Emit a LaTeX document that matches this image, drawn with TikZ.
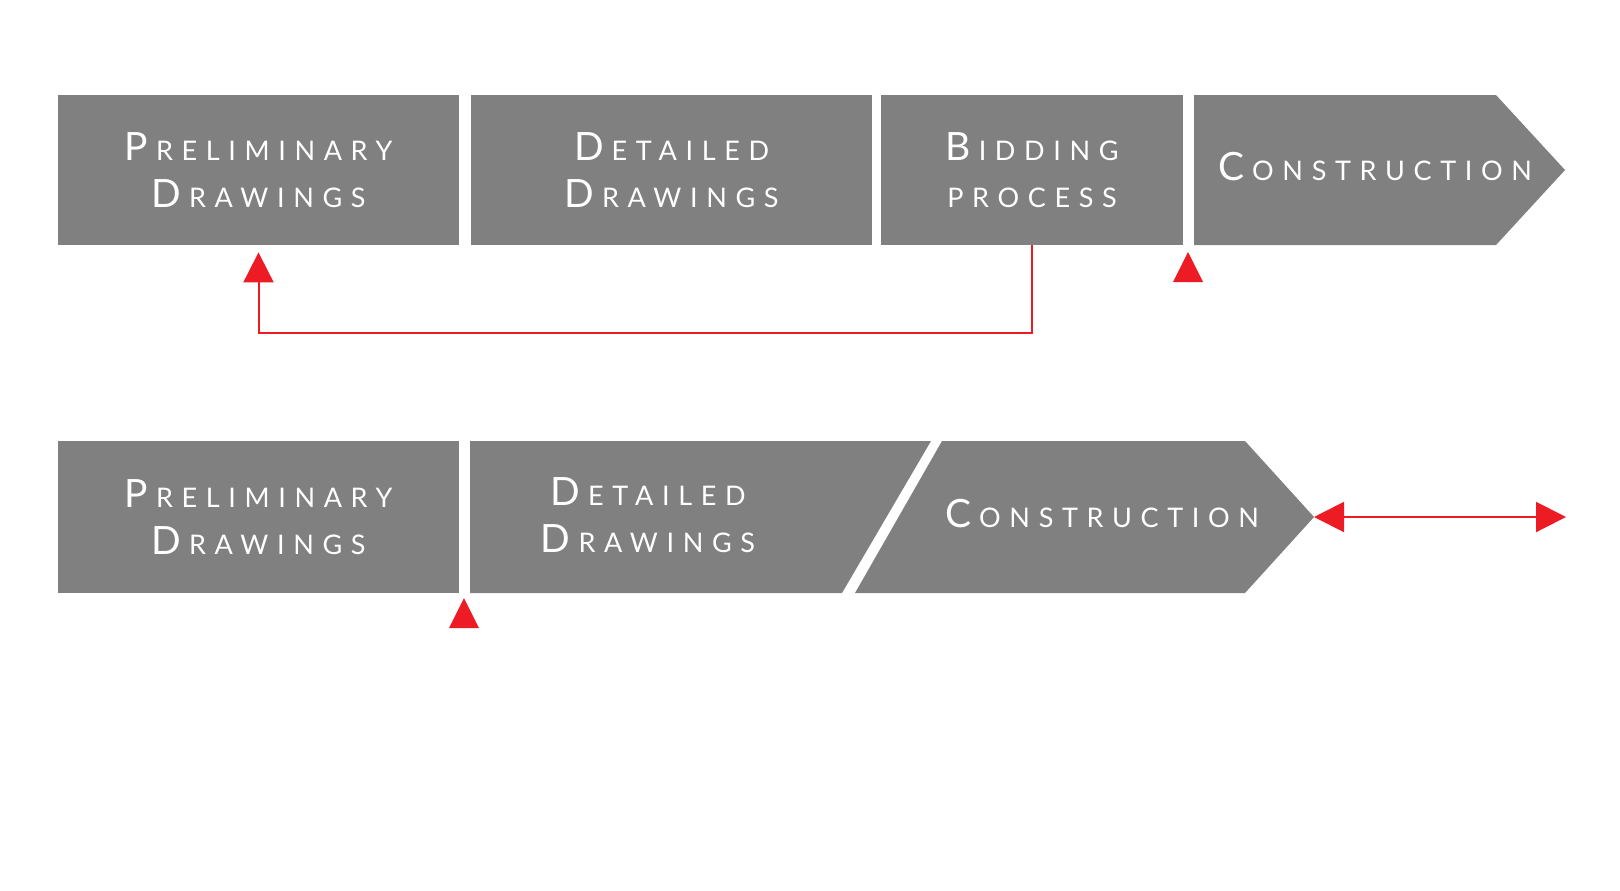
\documentclass[tikz,border=0pt]{standalone}
\usepackage{fontspec}
\usepackage{tikz}
\usetikzlibrary{arrows.meta,calc,positioning}
\newfontfamily\labelfont[LetterSpace=32]{Lato}
\definecolor{stagegray}{RGB}{128,128,128}
\definecolor{markred}{RGB}{237,28,36}
\newcommand{\capword}[2]{{\fontsize{19.5}{23.5}\selectfont #1}\kern4pt#2}
\tikzset{%
	stage/.style     = {rectangle, fill=stagegray, text=white, inner sep=0pt, minimum height=75pt, align=center, font=\labelfont\fontsize{13.5}{23.5}\selectfont},
	stagetext/.style = {text=white, inner sep=0pt, align=center, font=\labelfont\fontsize{13.5}{23.5}\selectfont},
	feedback/.style  = {draw=markred, line width=1pt, -{Triangle[width=15pt,length=15pt]}},
	marker/.style    = {fill=markred},
}
\begin{document}
\begin{tikzpicture}[x=0.5pt,y=-0.5pt]
	\useasboundingbox (0,0) rectangle (1620,890);
	% first row
	\node[stage, minimum width=200.5pt] (pre1) at (258.5,170) {\capword{P}{RELIMINARY}\\\capword{D}{RAWINGS}};
	\node[stage, minimum width=200.5pt] (det1) at (671.5,170) {\capword{D}{ETAILED}\\\capword{D}{RAWINGS}};
	\node[stage, minimum width=151pt] (bid) at (1032,170) {\capword{B}{IDDING}\\PROCESS};
	\fill[stagegray] (1194,95) -- (1496,95) -- (1565,170) -- (1496,245) -- (1194,245) -- cycle;
	\node[stagetext] (con1) at (1375,167) {\capword{C}{ONSTRUCTION}};
	\draw[feedback, shorten >=3.5pt] (bid.south) -- ++(0,88) -| (pre1.south);  % back to start
	\coordinate (gate1) at (1188,282);
	\fill[marker] (gate1) ++(-15,0) -- ++(15,-30) -- ++(15,30) -- cycle;
	% second row
	\node[stage, minimum width=200.5pt, minimum height=76pt] (pre2) at (258.5,517) {\capword{P}{RELIMINARY}\\\capword{D}{RAWINGS}};
	\fill[stagegray] (470,441) -- (931,441) -- (842,593) -- (470,593) -- cycle;
	\node[stagetext] (det2) at (648,515) {\capword{D}{ETAILED}\\\capword{D}{RAWINGS}};
	\fill[stagegray] (942,441) -- (1245,441) -- (1314,517) -- (1245,593) -- (855,593) -- cycle;
	\node[stagetext] (con2) at (1102,514) {\capword{C}{ONSTRUCTION}};
	\coordinate (con2tip) at (1314,517);
	\coordinate (con2end) at (1566,517);
	\draw[feedback, {Triangle[width=15pt,length=15pt]}-{Triangle[width=15pt,length=15pt]}] (con2tip) -- (con2end);
	\coordinate (gate2) at (464,628);
	\fill[marker] (gate2) ++(-15,0) -- ++(15,-30) -- ++(15,30) -- cycle;
\end{tikzpicture}
\end{document}
